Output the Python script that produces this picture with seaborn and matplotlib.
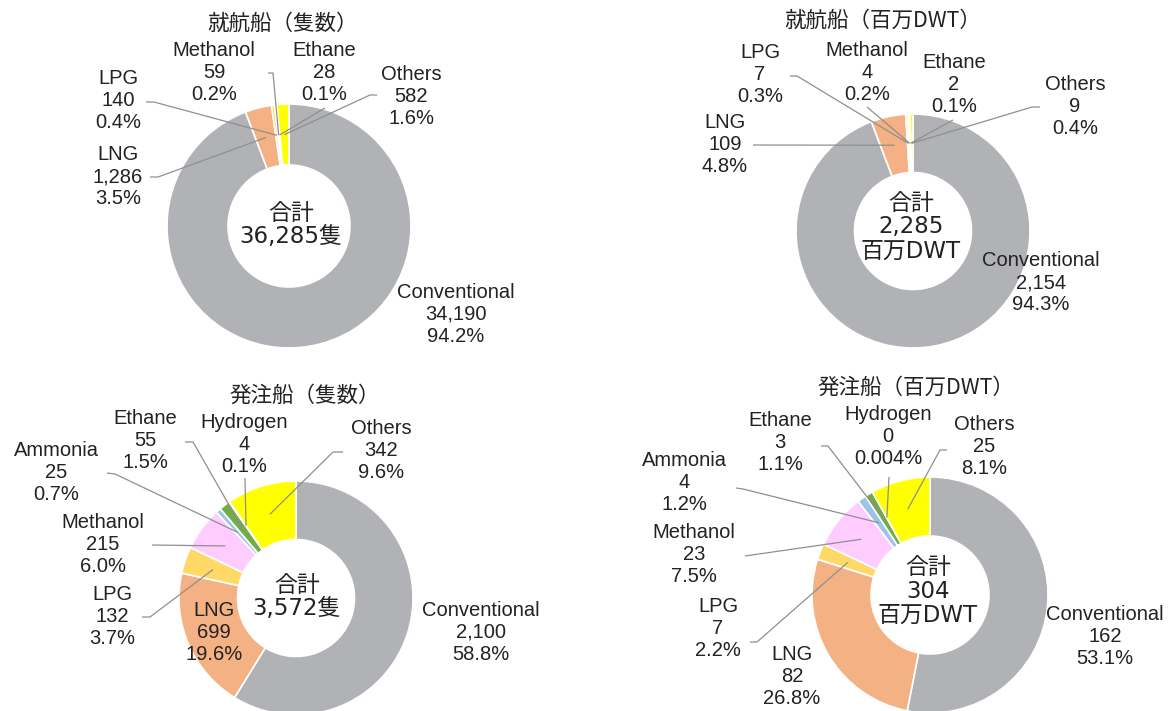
import matplotlib
matplotlib.use("Agg")
import matplotlib.pyplot as plt
import numpy as np
import seaborn as sns

W, H = 1173, 711

# ---- data ----
in_service_cats = ["Conventional", "LNG", "LPG", "Methanol", "Ethane", "Others"]
in_service_ships = [34190, 1286, 140, 59, 28, 582]
in_service_ships_pct = [94.2, 3.5, 0.4, 0.2, 0.1, 1.6]
in_service_dwt = [2154, 109, 7, 4, 2, 9]
in_service_dwt_pct = [94.3, 4.8, 0.3, 0.2, 0.1, 0.4]

order_cats = ["Conventional", "LNG", "LPG", "Methanol", "Ammonia", "Ethane", "Hydrogen", "Others"]
order_ships = [2100, 699, 132, 215, 25, 55, 4, 342]
order_ships_pct = [58.8, 19.6, 3.7, 6.0, 0.7, 1.5, 0.1, 9.6]
order_dwt = [162, 82, 7, 23, 4, 3, 0, 25]
order_dwt_pct = [53.1, 26.8, 2.2, 7.5, 1.2, 1.1, 0.004, 8.1]

totals = [36285, 2285, 3572, 304]
titles = ["就航船（隻数）", "就航船（百万DWT）", "発注船（隻数）", "発注船（百万DWT）"]
units = ["隻", "\n百万DWT", "隻", "\n百万DWT"]

colors = {
    "Conventional": "#b1b2b6",
    "LNG": "#f4b183",
    "LPG": "#ffd966",
    "Methanol": "#ffccff",
    "Ammonia": "#9dc3e6",
    "Ethane": "#70ad47",
    "Hydrogen": "#00b0f0",
    "Others": "#ffff00",
}

# ---- layout (pixel coords, y measured from top) ----
layouts = [
    dict(center=(289, 226), r=122, title=(283, 24), total=(291, 225),
         labels={"Conventional": ((456, 314), None),
                 "LNG": ((118, 177), [(150, 177), (158, 177)]),
                 "LPG": ((118, 101), [(146, 102), (154, 102)]),
                 "Methanol": ((214, 72), [(268, 73), (273, 73)]),
                 "Ethane": ((324, 73), [(325, 108)]),
                 "Others": ((411, 96), [(377, 95), (370, 95)])}),
    dict(center=(913, 231), r=117, title=(883, 21), total=(911, 227),
         labels={"Conventional": ((1041, 283), None),
                 "LNG": ((725, 144), [(753, 145)]),
                 "LPG": ((760, 75), [(790, 76), (797, 76)]),
                 "Methanol": ((867, 73), [(867, 107)]),
                 "Ethane": ((954, 85), [(953, 120)]),
                 "Others": ((1075, 107), [(1040, 107), (1032, 107)])}),
    dict(center=(296, 598), r=117, title=(305, 396), total=(297, 597),
         labels={"Conventional": ((481, 632), None),
                 "LNG": ((214, 632), None),
                 "LPG": ((112, 617), [(142, 617), (150, 617)]),
                 "Methanol": ((103, 545), [(152, 545)]),
                 "Ammonia": ((56, 473), [(107, 473), (115, 474)]),
                 "Ethane": ((145, 441), [(185, 442), (193, 442)]),
                 "Hydrogen": ((244, 444), [(245, 478)]),
                 "Others": ((381, 451), [(343, 452), (333, 452)])}),
    dict(center=(930, 595), r=118, title=(916, 388), total=(928, 591),
         labels={"Conventional": ((1105, 637), None),
                 "LNG": ((792, 676), None),
                 "LPG": ((718, 628), [(750, 642), (757, 642)]),
                 "Methanol": ((694, 554), [(745, 556)]),
                 "Ammonia": ((684, 483), [(736, 488), (743, 489)]),
                 "Ethane": ((780, 442), [(821, 446), (828, 446)]),
                 "Hydrogen": ((888, 437), [(889, 477)]),
                 "Others": ((984, 446), [(947, 450), (940, 450)])}),
]

charts = [
    (in_service_cats, in_service_ships, in_service_ships_pct),
    (in_service_cats, in_service_dwt, in_service_dwt_pct),
    (order_cats, order_ships, order_ships_pct),
    (order_cats, order_dwt, order_dwt_pct),
]

sns.set_theme(style="white")
LATIN = ["Liberation Sans", "Noto Sans CJK JP"]
CJK = ["Noto Sans CJK JP", "DejaVu Sans"]
TOTAL_FONT = ["DejaVu Sans", "Noto Sans CJK JP"]
plt.rcParams["font.family"] = LATIN
TEXT = "#222222"
LEADER = "#8f8f8f"


def fmt_pct(p):
    return f"{p:.1f}%" if p >= 0.05 else f"{p:.3f}%"


def px(pt):
    return pt[0], H - pt[1]


fig = plt.figure(figsize=(W / 100, H / 100), dpi=100)
ax = fig.add_axes([0, 0, 1, 1])

for (cats, vals, pcts), lay, title, total, unit in zip(charts, layouts, titles, totals, units):
    cx, cy = px(lay["center"])
    r = lay["r"]
    palette = sns.color_palette([colors[c] for c in cats])
    wedges, _ = ax.pie(pcts, colors=palette, radius=r, center=(cx, cy),
                       startangle=90, counterclock=False,
                       wedgeprops=dict(width=r * 0.5, edgecolor="white", linewidth=1.2))
    for cat, val, pct, wedge in zip(cats, vals, pcts, wedges):
        (lx, ly), leader = lay["labels"][cat]
        ax.text(lx, H - ly, f"{cat}\n{val:,}\n{fmt_pct(pct)}", ha="center", va="center",
                fontsize=14.5, color=TEXT, family=LATIN)
        if leader:
            # leader ends in the middle of the ring, at the wedge's mid angle
            ang = np.deg2rad((wedge.theta1 + wedge.theta2) / 2)
            rm = r * 0.75
            pts = [px(p) for p in leader] + [(cx + rm * np.cos(ang), cy + rm * np.sin(ang))]
            ax.plot([p[0] for p in pts], [p[1] for p in pts], color=LEADER, lw=0.9,
                    solid_capstyle="butt")
    tx, ty = px(lay["total"])
    ax.text(tx, ty, f"合計\n{total:,}{unit}", ha="center", va="center",
            fontsize=16.5, color=TEXT, family=TOTAL_FONT, linespacing=1.05)
    ttx, tty = px(lay["title"])
    ax.text(ttx, tty, title, ha="center", va="center", fontsize=15.5, color=TEXT, family=CJK)

ax.set_xlim(0, W)
ax.set_ylim(0, H)
ax.set_aspect("equal")
ax.axis("off")
fig.savefig("out.png", dpi=100)
